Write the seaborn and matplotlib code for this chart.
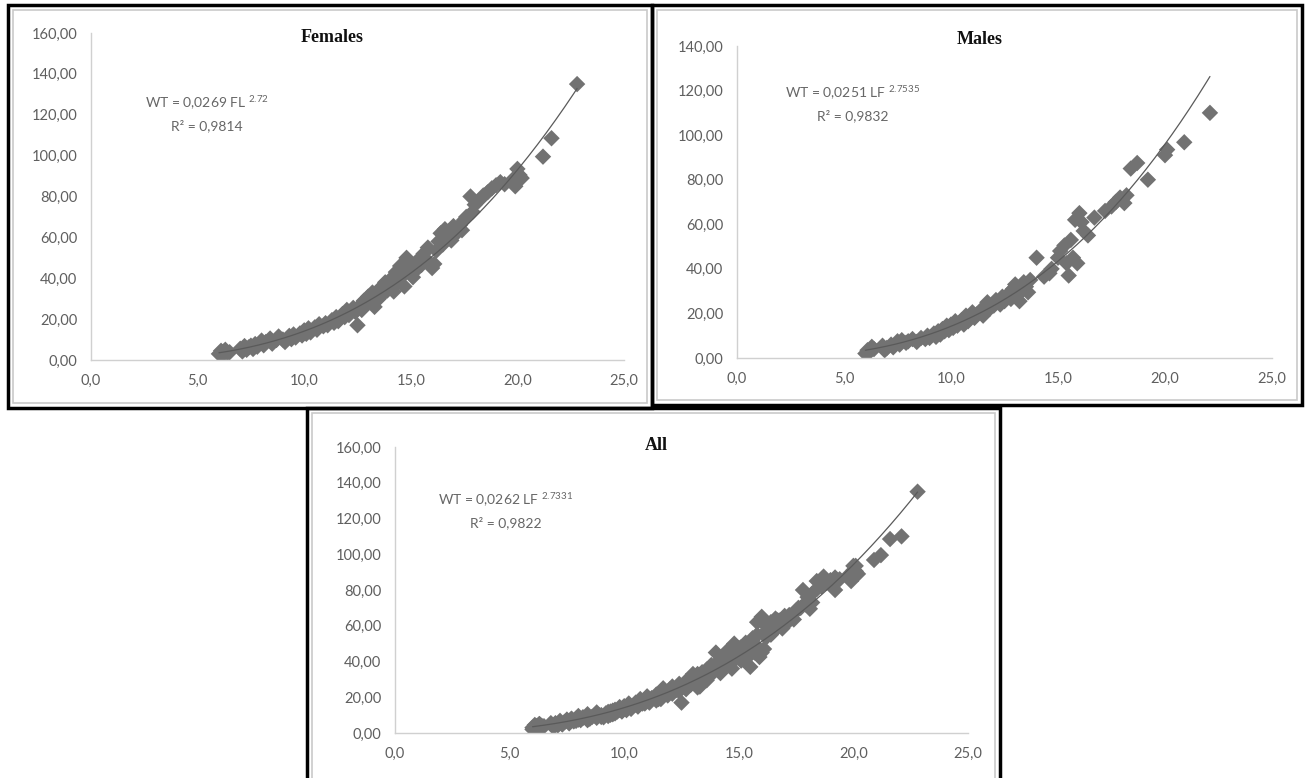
import numpy as np
import pandas as pd
import matplotlib
matplotlib.use("Agg")
import matplotlib.pyplot as plt
from matplotlib.patches import Rectangle
from matplotlib.ticker import FuncFormatter, MultipleLocator
import seaborn as sns

# ---- data ----
fem_fl = [6.0, 6.1, 6.2, 6.3, 6.4, 6.2, 6.5,
          7.0, 7.1, 7.2, 7.3, 7.4, 7.5, 7.6, 7.7, 7.8, 7.9,
          8.0, 8.1, 8.2, 8.4, 8.5, 8.7, 8.8,
          9.0, 9.1, 9.3, 9.4, 9.5, 9.6, 9.8, 9.9,
          10.0, 10.1, 10.2, 10.3, 10.5, 10.6, 10.7, 10.9,
          11.0, 11.1, 11.3, 11.4, 11.5, 11.6, 11.8, 11.9,
          12.0, 12.1, 12.3, 12.4, 12.5, 12.6, 12.7, 12.8, 12.9,
          13.0, 13.1, 13.2, 13.3, 13.5, 13.6, 13.7, 13.8, 13.9,
          14.0, 14.1, 14.2, 14.3, 14.4, 14.5, 14.6, 14.7, 14.8, 14.9,
          15.0, 15.1, 15.2, 15.3, 15.5, 15.6, 15.7, 15.8,
          16.0, 16.1, 16.2, 16.3, 16.4, 16.5, 16.6, 16.7, 16.8, 16.9,
          17.0, 17.1, 17.3, 17.4, 17.5, 17.6, 17.8, 17.9,
          18.0, 18.2, 18.4, 18.6, 18.8, 19.0, 19.2, 19.4,
          19.8, 19.9, 20.0, 20.1, 20.2,
          21.2, 21.6, 22.8]
fem_wt = [3.0, 4.5, 2.8, 5.0, 3.5, 4.0, 3.8,
          5.5, 4.2, 6.8, 5.0, 6.2, 7.0, 5.4, 7.8, 6.5, 8.0,
          9.5, 7.2, 8.8, 10.5, 8.0, 9.8, 11.5,
          10.0, 8.8, 11.8, 10.2, 12.5, 11.0, 13.0, 12.0,
          14.5, 12.8, 15.5, 13.5, 16.0, 14.8, 17.5, 16.5,
          18.0, 17.0, 19.5, 18.2, 21.0, 19.0, 22.5, 21.0,
          24.5, 22.0, 25.5, 23.5, 17.0, 26.5, 24.5, 29.0, 27.0,
          31.0, 28.5, 33.0, 26.0, 30.0, 35.5, 32.5, 38.0, 34.0,
          36.5, 40.0, 33.5, 43.0, 38.5, 46.0, 41.0, 36.0, 50.0, 44.0,
          47.5, 40.5, 43.5, 48.5, 46.5, 52.0, 49.5, 55.0,
          45.0, 47.0, 53.5, 58.0, 62.0, 56.5, 64.0, 60.5, 63.0, 58.5,
          65.5, 61.5, 66.0, 63.5, 68.5, 70.0, 80.0, 72.5,
          76.0, 78.0, 80.5, 82.0, 84.0, 85.5, 87.0, 86.0,
          88.5, 85.0, 93.5, 90.5, 89.0,
          99.5, 108.5, 135.0]

male_lf = [6.0, 6.1, 6.2, 6.3, 6.4, 6.8, 6.9,
           7.0, 7.2, 7.3, 7.5, 7.6, 7.7, 7.9,
           8.0, 8.2, 8.4, 8.6, 8.8, 8.9,
           9.0, 9.2, 9.3, 9.4, 9.5, 9.6, 9.7, 9.8, 9.9,
           10.0, 10.1, 10.2, 10.3, 10.5, 10.6, 10.7, 10.8,
           11.0, 11.1, 11.2, 11.4, 11.5, 11.7, 11.8,
           12.0, 12.1, 12.3, 12.4, 12.5, 12.7, 12.8, 12.9,
           13.0, 13.1, 13.2, 13.3, 13.4, 13.5, 13.6, 13.7,
           14.0, 14.35, 14.6, 14.7,
           15.0, 15.1, 15.3, 15.4, 15.5, 15.6, 15.7, 15.8, 15.9,
           16.0, 16.1, 16.2, 16.4, 16.7,
           17.2, 17.5, 17.7, 17.9,
           18.1, 18.2, 18.4, 18.7,
           19.2, 20.0, 20.1, 20.9, 22.1]
male_wt = [2.0, 3.5, 2.8, 5.0, 4.0, 5.5, 3.5,
           4.5, 6.0, 4.8, 7.5, 6.0, 8.0, 6.8,
           7.5, 8.5, 7.2, 9.0, 8.5, 10.0,
           9.0, 11.0, 9.5, 12.0, 10.5, 13.0, 12.0, 14.5, 12.5,
           15.0, 13.5, 16.5, 14.5, 17.0, 15.0, 19.0, 16.5,
           20.5, 18.0, 19.5, 21.5, 19.0, 25.0, 22.0,
           23.5, 26.0, 24.0, 27.5, 25.5, 29.0, 26.5, 31.0,
           33.0, 28.0, 25.5, 30.5, 34.0, 32.0, 29.5, 35.0,
           45.0, 36.5, 38.0, 40.0,
           45.0, 48.0, 50.5, 42.5, 37.0, 53.0, 45.0, 62.0, 42.5,
           65.0, 61.0, 57.0, 55.0, 63.0,
           66.0, 68.0, 70.0, 72.0,
           69.5, 73.0, 85.0, 87.5,
           80.0, 91.0, 93.5, 96.8, 110.0]

# power trend lines as printed on the chart (WT = a * L^b)
fem_a, fem_b, fem_r2 = 0.0269, 2.72, "0,9814"
male_a, male_b, male_r2 = 0.0251, 2.7535, "0,9832"
all_a, all_b, all_r2 = 0.0262, 2.7331, "0,9822"

assert len(fem_fl) == len(fem_wt) and len(male_lf) == len(male_wt)

sns.set_style("white")
plt.rcParams["font.family"] = ["Lato", "DejaVu Sans"]
plt.rcParams["mathtext.fontset"] = "custom"
plt.rcParams["mathtext.rm"] = "Lato"

W, H = 1307, 778
fig = plt.figure(figsize=(W / 100, H / 100), dpi=100)


def box(x0, y0, x1, y1):
    # pixel box -> figure fraction [left, bottom, width, height]
    return [x0 / W, 1 - y1 / H, (x1 - x0) / W, (y1 - y0) / H]


def frame(x0, y0, x1, y1):
    fig.add_artist(Rectangle((x0 / W, 1 - y1 / H), (x1 - x0) / W, (y1 - y0) / H,
                             transform=fig.transFigure, fill=False,
                             edgecolor="black", linewidth=2.5))
    fig.add_artist(Rectangle(((x0 + 5) / W, 1 - (y1 - 5) / H), (x1 - x0 - 10) / W,
                             (y1 - y0 - 10) / H, transform=fig.transFigure,
                             fill=False, edgecolor="#c9c9c9", linewidth=1.2))


def panel(rect, xs, ys, a, b, r2, title, lname, ymax, eq_xy, title_xy):
    ax = fig.add_axes(rect)
    df = pd.DataFrame({"x": xs, "y": ys})
    sns.scatterplot(data=df, x="x", y="y", marker="D", s=70, color="#727272",
                    edgecolor="none", ax=ax, zorder=2)
    xf = np.linspace(min(xs), max(xs), 200)
    sns.lineplot(x=xf, y=a * xf ** b, color="#5a5a5a", linewidth=0.9, ax=ax, zorder=3)
    ax.set_xlim(0, 25)
    ax.set_ylim(0, ymax)
    ax.xaxis.set_major_locator(MultipleLocator(5))
    ax.yaxis.set_major_locator(MultipleLocator(20))
    ax.xaxis.set_major_formatter(FuncFormatter(lambda v, p: f"{v:.1f}".replace(".", ",")))
    ax.yaxis.set_major_formatter(FuncFormatter(lambda v, p: f"{v:.2f}".replace(".", ",")))
    for s in ["top", "right"]:
        ax.spines[s].set_visible(False)
    for s in ["left", "bottom"]:
        ax.spines[s].set_color("#d0d0d0")
        ax.spines[s].set_linewidth(1.0)
    ax.tick_params(axis="both", direction="out", length=4, width=1, color="#d0d0d0",
                   labelsize=10.5, labelcolor="#5f5f5f", pad=6)
    ax.set_xlabel("")
    ax.set_ylabel("")
    ax.patch.set_alpha(0)
    fig.text(title_xy[0] / W, 1 - title_xy[1] / H, title, ha="center", va="center",
             fontsize=13, fontweight="bold", family="Liberation Serif", color="#111111")
    fig.text(eq_xy[0] / W, 1 - eq_xy[1] / H,
             f"WT = {str(a).replace('.', ',')} {lname} $^{{{b}}}$",
             ha="center", va="center", fontsize=10, color="#666666")
    fig.text(eq_xy[0] / W, 1 - (eq_xy[1] + 23) / H, f"R² = {r2}",
             ha="center", va="center", fontsize=10, color="#666666")
    return ax


frame(8, 5, 652, 408)
frame(652, 5, 1302, 405)
frame(307, 408, 1000, 790)

panel(box(91, 33, 624, 360), fem_fl, fem_wt, fem_a, fem_b, fem_r2,
      "Females", "FL", 160, (207, 103), (332, 38))
panel(box(737, 46, 1272, 358), male_lf, male_wt, male_a, male_b, male_r2,
      "Males", "LF", 140, (853, 93), (980, 40))
panel(box(395, 447, 968, 733), fem_fl + male_lf, fem_wt + male_wt, all_a, all_b, all_r2,
      "All", "LF", 160, (506, 500), (656, 446))

fig.savefig("out.png", dpi=100, facecolor="white")
